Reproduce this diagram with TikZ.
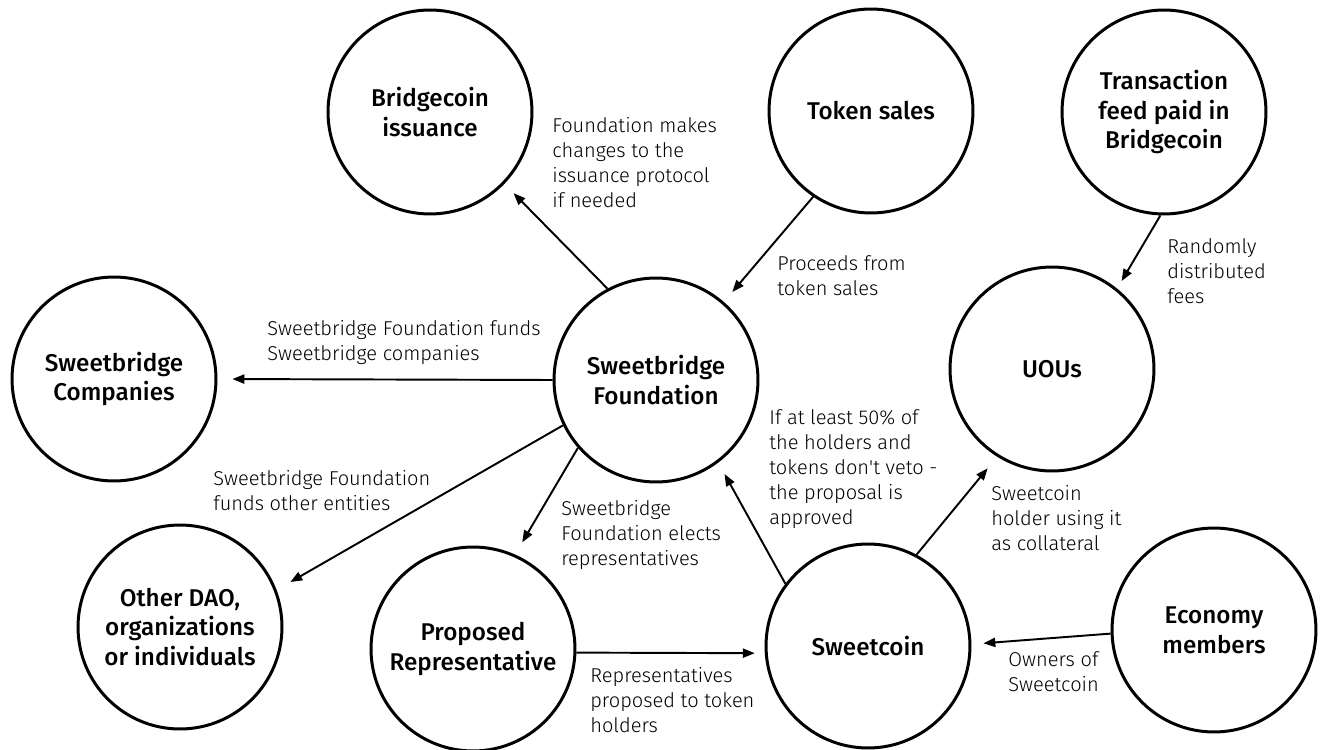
\documentclass[tikz,border=0pt]{standalone}
\usepackage{fontspec}
\setmainfont{Fira Sans}
\newfontfamily\thinfont{Fira Sans Light}
\newfontfamily\midfont{Fira Sans Medium}
\usetikzlibrary{arrows.meta}
\tikzset{
  entity/.style={circle,draw,line width=1.7pt,minimum size=4.08cm,inner sep=0pt,align=center,
    font=\midfont\fontsize{13.8}{17}\selectfont},
  note/.style={anchor=north west,align=left,inner sep=0pt,font=\thinfont\fontsize{11.4}{14.2}\selectfont},
  flow/.style={-{Triangle[length=6.8pt,width=5.2pt]},line width=1.1pt,shorten >=7.4pt}
}

\begin{document}
\begin{tikzpicture}[x=0.02cm,y=-0.02cm]
\useasboundingbox (0,0) rectangle (1320,750);
\node[entity] (bi) at (430,112) {Bridgecoin\\issuance};
\node[entity] (ts) at (871,111) {Token sales};
\node[entity] (tf) at (1164,112) {Transaction\\feed paid in\\Bridgecoin};
\node[entity] (sc) at (114,379) {Sweetbridge\\Companies};
\node[entity] (sf) at (656,380) {Sweetbridge\\Foundation};
\node[entity] (uou) at (1052,369) {UOUs};
\node[entity] (od) at (180,627) {Other DAO,\\organizations\\or individuals};
\node[entity] (pr) at (473,649) {Proposed\\Representative};
\node[entity] (sw) at (868,646) {Sweetcoin};
\node[entity] (em) at (1214,630) {Economy\\members};
%
\node[note] (nbi) at (552,117) {Foundation makes\\changes to the\\issuance protocol\\if needed};
\node[note] (nts) at (777,255) {Proceeds from\\token sales};
\node[note] (ntf) at (1167,238) {Randomly\\distributed\\fees};
\node[note] (nsc) at (267,320) {Sweetbridge Foundation funds\\Sweetbridge companies};
\node[note] (nod) at (213,470) {Sweetbridge Foundation\\funds other entities};
\node[note] (npr) at (561,500) {Sweetbridge\\Foundation elects\\representatives};
\node[note] (nsf) at (769,409) {If at least 50\% of\\the holders and\\tokens don't veto -\\the proposal is\\approved};
\node[note] (nsw) at (590,667) {Representatives\\proposed to token\\holders};
\node[note] (nuou) at (991,485) {Sweetcoin\\holder using it\\as collateral};
\node[note] (nem) at (1008,651) {Owners of\\Sweetcoin};
%
\draw[flow] (sf.118) -- (bi.-44);
\draw[flow] (ts.-124) -- (sf.49);
\draw[flow,shorten >=5pt] (tf.-92) -- (uou.51);
\draw[flow,shorten >=8.5pt] (sf.west) -- (sc.east);
\draw[flow,shorten >=9pt] (sf.206) -- (od.21);
\draw[flow,shorten >=8pt] (sf.221) -- (pr.66);
\draw[flow] (sw.143) -- (sf.-53);
\draw[flow,shorten >=5.7pt] (pr.-2) -- (sw.184);
\draw[flow,shorten >=8.5pt] (sw.62) -- (uou.-122);
\draw[flow,shorten >=6.8pt] (em.182) -- (sw.1.5);
\end{tikzpicture}
\end{document}
